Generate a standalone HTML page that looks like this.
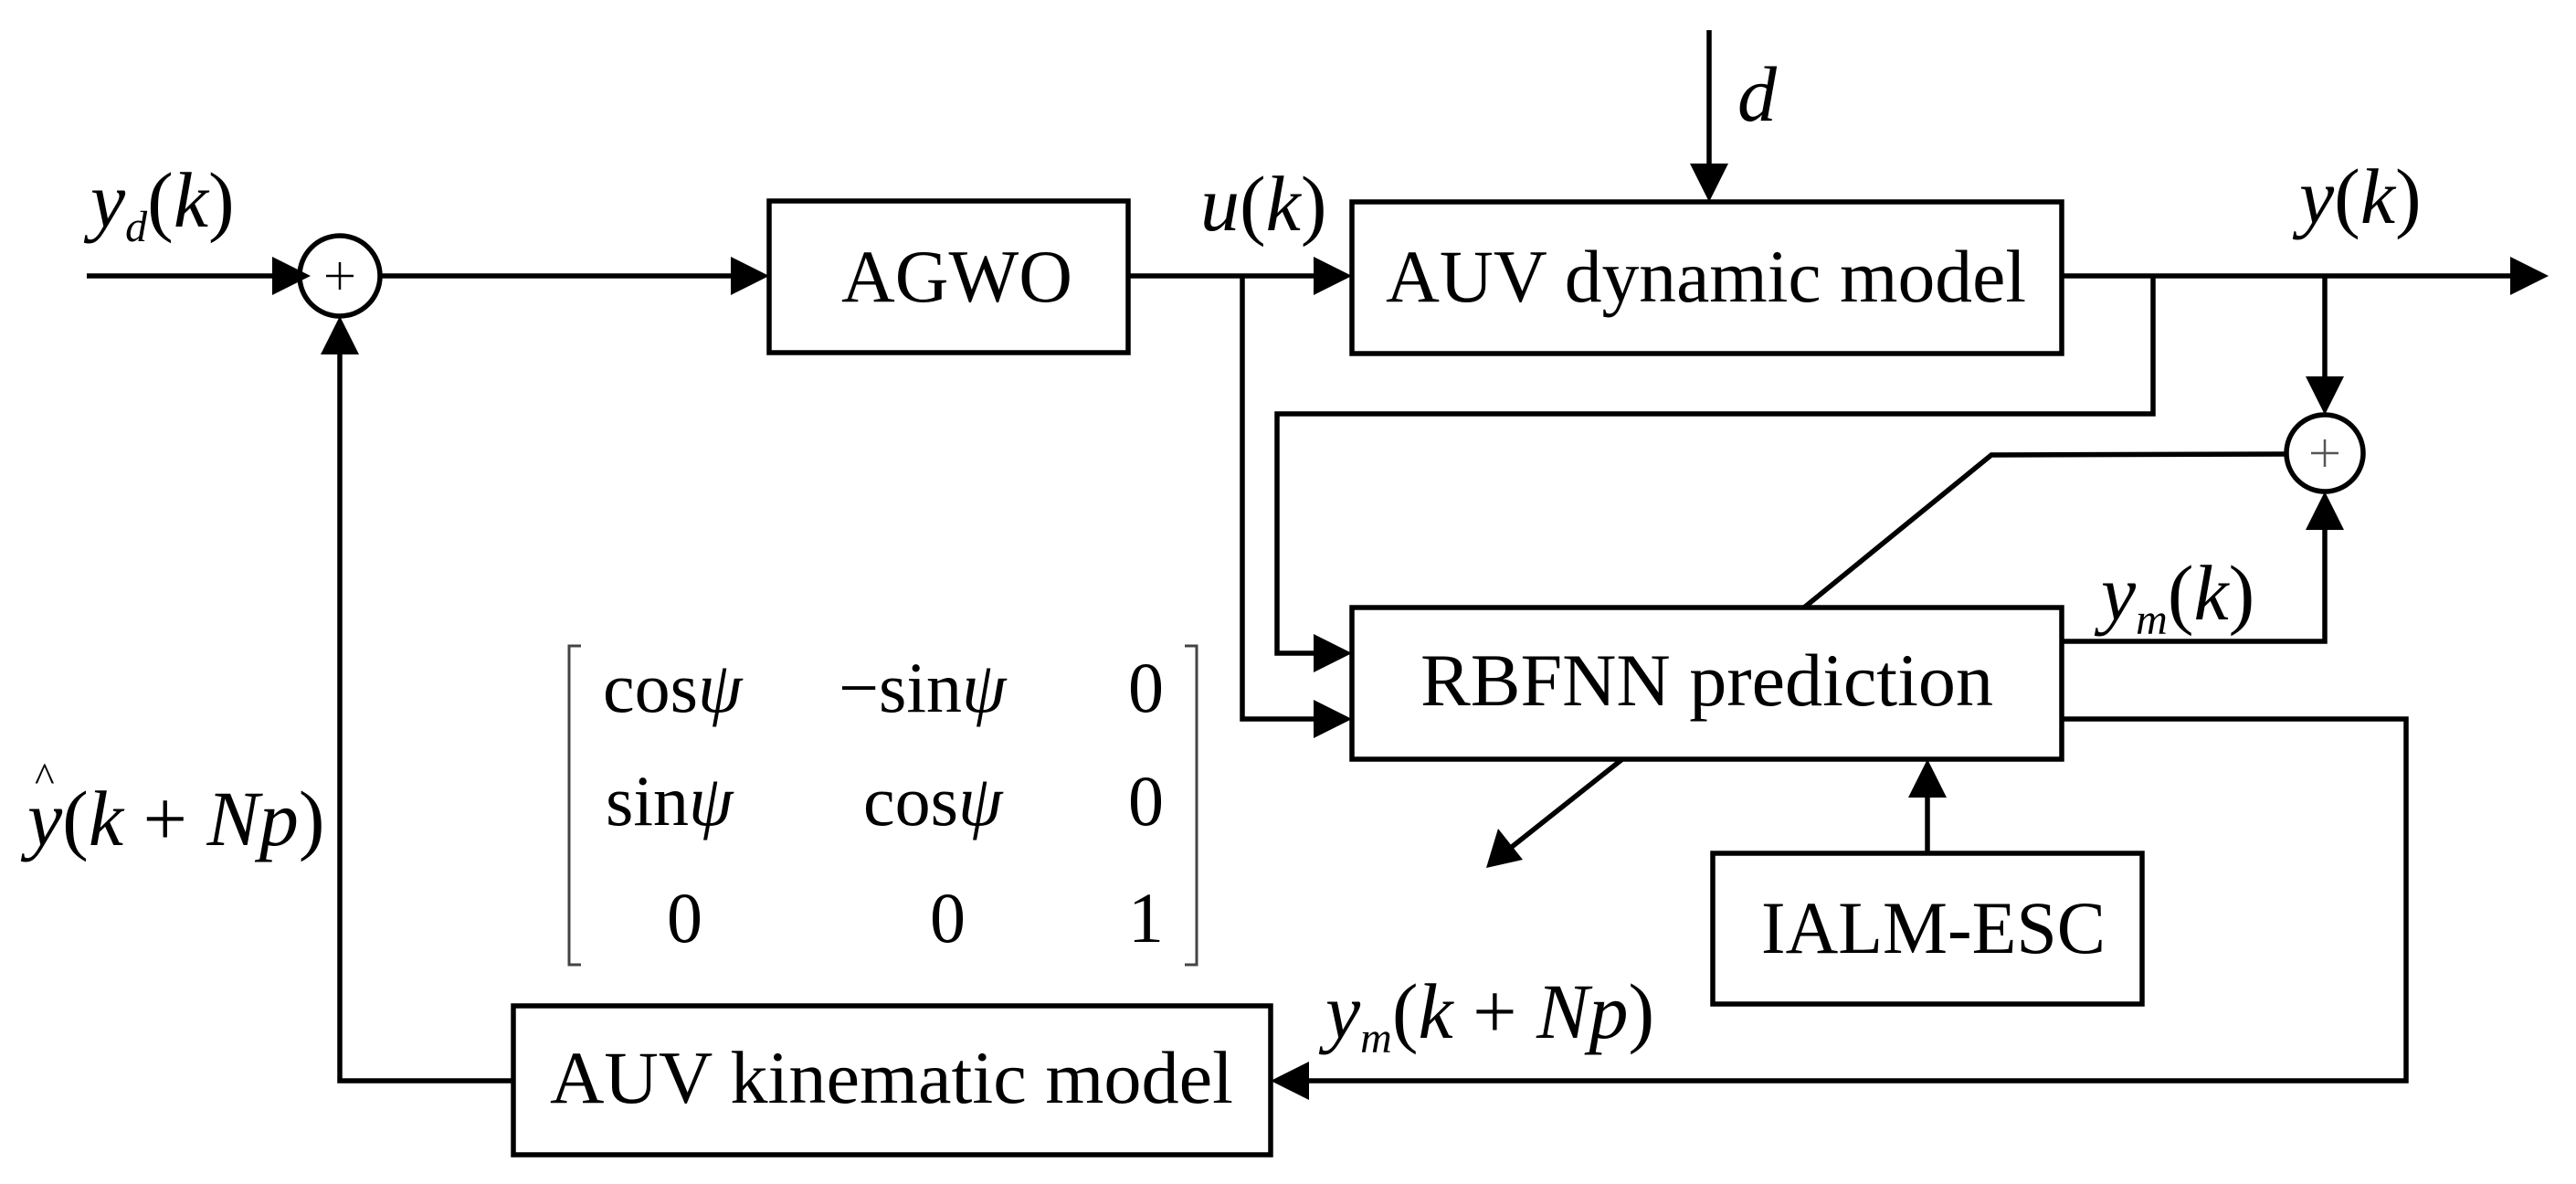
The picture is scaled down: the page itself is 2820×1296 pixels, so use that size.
<!DOCTYPE html>
<html><head><meta charset="utf-8"><style>html,body{margin:0;padding:0;background:#fff}svg{display:block}</style></head>
<body>
<svg width="2820" height="1296" viewBox="0 0 2820 1296" xmlns="http://www.w3.org/2000/svg" font-family="Liberation Serif, serif">
<g stroke="#000" stroke-width="5.5" fill="none">
<rect x="842" y="220" width="393" height="166"/>
<rect x="1480" y="221" width="777" height="166"/>
<rect x="1480" y="665" width="777" height="166"/>
<rect x="1875" y="934" width="470" height="165"/>
<rect x="562" y="1101" width="829" height="163"/>
<circle cx="372" cy="302" r="44"/>
<circle cx="2545" cy="496" r="42"/>
<polyline points="95,302 300,302"/>
<polyline points="416,302 800,302"/>
<polyline points="1235,302 1440,302"/>
<polyline points="1360,302 1360,787 1440,787"/>
<polyline points="2357,302 2357,453 1398,453 1398,715 1440,715"/>
<polyline points="2257,302 2750,302"/>
<polyline points="2545,302 2545,415"/>
<polyline points="1871,33 1871,181"/>
<polyline points="2503,497 2180,498 1975,665"/>
<polyline points="2257,702 2545,702 2545,578"/>
<polyline points="2257,787 2634,787 2634,1183 1431,1183"/>
<polyline points="562,1183 372,1183 372,386"/>
<polyline points="2110,934 2110,871"/>
<polyline points="1776,831 1655,927"/>
<polyline points="636,707 623,707 623,1056 636,1056" stroke-width="3" stroke="#444"/>
<polyline points="1297,707 1310,707 1310,1056 1297,1056" stroke-width="3" stroke="#444"/>
</g>
<g fill="#000">
<polygon points="340,302 298,281 298,323"/>
<polygon points="842,302 800,281 800,323"/>
<polygon points="1480,302 1438,281 1438,323"/>
<polygon points="1480,715 1438,694 1438,736"/>
<polygon points="1480,787 1438,766 1438,808"/>
<polygon points="2790,302 2748,281 2748,323"/>
<polygon points="1871,221 1850,179 1892,179"/>
<polygon points="2545,454 2524,412 2566,412"/>
<polygon points="2545,538 2524,580 2566,580"/>
<polygon points="372,346 351,388 393,388"/>
<polygon points="1391,1183 1433,1162 1433,1204"/>
<polygon points="2110,831 2089,873 2131,873"/>
<polygon points="1627,950 1640,907 1667,941"/>
</g>
<g stroke="#000" stroke-width="2.5">
<line x1="357" y1="302" x2="387" y2="302"/><line x1="372" y1="287" x2="372" y2="317"/>
<line x1="2530" y1="496" x2="2560" y2="496" stroke="#555"/><line x1="2545" y1="481" x2="2545" y2="511" stroke="#555"/>
</g>
<g font-size="82" fill="#000">
<text x="921" y="330" textLength="253" lengthAdjust="spacingAndGlyphs">AGWO</text>
<text x="1517" y="330" textLength="701" lengthAdjust="spacingAndGlyphs">AUV dynamic model</text>
<text x="1555" y="772" textLength="627" lengthAdjust="spacingAndGlyphs">RBFNN prediction</text>
<text x="1928" y="1043" textLength="377" lengthAdjust="spacingAndGlyphs">IALM-ESC</text>
<text x="602" y="1207" textLength="748" lengthAdjust="spacingAndGlyphs">AUV kinematic model</text>
</g>
<g font-size="78" fill="#000">
<text x="660" y="779">cos<tspan font-style="italic">ψ</tspan></text>
<text x="918" y="779">−sin<tspan font-style="italic">ψ</tspan></text>
<text x="1235" y="779">0</text>
<text x="663" y="903">sin<tspan font-style="italic">ψ</tspan></text>
<text x="945" y="903">cos<tspan font-style="italic">ψ</tspan></text>
<text x="1235" y="903">0</text>
<text x="730" y="1031">0</text>
<text x="1018" y="1031">0</text>
<text x="1235" y="1031">1</text>
</g>
<g font-size="86" fill="#000">
<text x="99" y="248"><tspan font-style="italic">y</tspan><tspan font-style="italic" font-size="48" dy="16">d</tspan><tspan dy="-16">(</tspan><tspan font-style="italic">k</tspan>)</text>
<text x="1314" y="252"><tspan font-style="italic">u</tspan>(<tspan font-style="italic">k</tspan>)</text>
<text x="1902" y="132" font-style="italic">d</text>
<text x="2517" y="244"><tspan font-style="italic">y</tspan>(<tspan font-style="italic">k</tspan>)</text>
<text x="2300" y="678"><tspan font-style="italic">y</tspan><tspan font-style="italic" font-size="48" dy="16">m</tspan><tspan dy="-16">(</tspan><tspan font-style="italic">k</tspan>)</text>
<text x="1451" y="1136"><tspan font-style="italic">y</tspan><tspan font-style="italic" font-size="48" dy="16">m</tspan><tspan dy="-16">(</tspan><tspan font-style="italic">k</tspan> + <tspan font-style="italic">Np</tspan>)</text>
<text x="30" y="925"><tspan font-style="italic">y</tspan>(<tspan font-style="italic">k</tspan> + <tspan font-style="italic">Np</tspan>)</text>
<text x="38" y="866" font-size="46">^</text>
</g>
</svg>
</body></html>
